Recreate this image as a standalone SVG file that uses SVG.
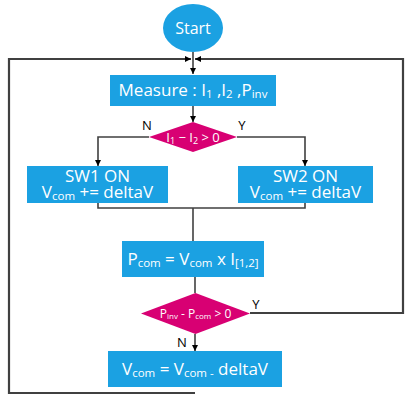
<svg xmlns="http://www.w3.org/2000/svg" width="419" height="404" viewBox="0 0 419 404">
<style>
.box{fill:#1ba1e2}
.dia{fill:#d80073}
.t{font-family:"Open Sans","Noto Sans",sans-serif;fill:#fff;text-anchor:middle}
.lbl{font-family:"Open Sans","Noto Sans",sans-serif;fill:#000;font-size:13px;text-anchor:middle}
.ln{fill:none;stroke:#404040;stroke-width:1.6}
.lo{fill:none;stroke:#404040;stroke-width:2.2}
</style>
<defs>
<marker id="ah" viewBox="0 0 10 10" refX="10" refY="5" markerWidth="6" markerHeight="6" markerUnits="userSpaceOnUse" orient="auto">
<path d="M0,0 L10,5 L0,10 z" fill="#000"/>
</marker>
</defs>
<rect width="419" height="404" fill="#fff"/>
<g id="connectors">
<path class="ln" d="M193,52 V74" marker-end="url(#ah)"/>
<path class="lo" d="M195,393 H9 V59 H191" marker-end="url(#ah)"/>
<path class="lo" d="M250,313 H403 V59 H195" marker-end="url(#ah)"/>
<path class="ln" d="M193,106 V122" marker-end="url(#ah)"/>
<path class="ln" d="M149,137 H98 V166" marker-end="url(#ah)"/>
<path class="ln" d="M237,137 H305 V166" marker-end="url(#ah)"/>
<path class="ln" d="M98,203 V208 H305 V203"/>
<path class="ln" d="M193,208 V241"/>
<path class="ln" d="M195,277 V293"/>
<path class="ln" d="M195,334 V351" marker-end="url(#ah)"/>
</g>
<g id="start">
<ellipse cx="193" cy="28" rx="30" ry="24" class="box"/>
<text class="t" x="193" y="34" font-size="16">Start</text>
</g>
<g id="measure">
<rect class="box" x="110" y="75" width="166" height="31"/>
<text class="t" x="193" y="96" font-size="17">Measure : I<tspan font-size="11.5" dy="2">1</tspan><tspan dy="-2"> ,I</tspan><tspan font-size="11.5" dy="2">2</tspan><tspan dy="-2"> ,P</tspan><tspan font-size="11.5" dy="2">inv</tspan></text>
</g>
<g id="dec1">
<polygon class="dia" points="193,122 237,137 193,152 149,137"/>
<text class="t" x="193" y="141.5" font-size="13">I<tspan font-size="9" dy="2">1</tspan><tspan dy="-2"> − I</tspan><tspan font-size="9" dy="2">2</tspan><tspan dy="-2"> &gt; 0</tspan></text>
<text class="lbl" x="147" y="130">N</text>
<text class="lbl" x="242" y="130">Y</text>
</g>
<g id="sw1">
<rect class="box" x="27" y="166" width="141" height="37"/>
<text class="t" font-size="17"><tspan x="97.5" y="181.5">SW1 ON</tspan><tspan x="97.5" y="198">V</tspan><tspan font-size="11.5" dy="2">com</tspan><tspan dy="-2"> += deltaV</tspan></text>
</g>
<g id="sw2">
<rect class="box" x="238" y="166" width="135" height="37"/>
<text class="t" font-size="17"><tspan x="305.5" y="181.5">SW2 ON</tspan><tspan x="305.5" y="198">V</tspan><tspan font-size="11.5" dy="2">com</tspan><tspan dy="-2"> += deltaV</tspan></text>
</g>
<g id="pcom">
<rect class="box" x="122" y="241" width="142" height="36"/>
<text class="t" x="193" y="265" font-size="17">P<tspan font-size="11.5" dy="2">com</tspan><tspan dy="-2"> = V</tspan><tspan font-size="11.5" dy="2">com</tspan><tspan dy="-2"> x I</tspan><tspan font-size="11.5" dy="2">[1,2]</tspan></text>
</g>
<g id="dec2">
<polygon class="dia" points="195.5,293 250,313.5 195.5,334 141,313.5"/>
<text class="t" x="195.5" y="317.5" font-size="12">P<tspan font-size="8" dy="1.5">inv</tspan><tspan dy="-1.5"> - P</tspan><tspan font-size="8" dy="1.5">com</tspan><tspan dy="-1.5"> &gt; 0</tspan></text>
<text class="lbl" x="256" y="309">Y</text>
<text class="lbl" x="182" y="347">N</text>
</g>
<g id="vcom">
<rect class="box" x="108" y="351" width="174" height="36"/>
<text class="t" x="195" y="375" font-size="17">V<tspan font-size="11.5" dy="2">com</tspan><tspan dy="-2"> = V</tspan><tspan font-size="11.5" dy="2">com -</tspan><tspan dy="-2"> deltaV</tspan></text>
</g>
</svg>
